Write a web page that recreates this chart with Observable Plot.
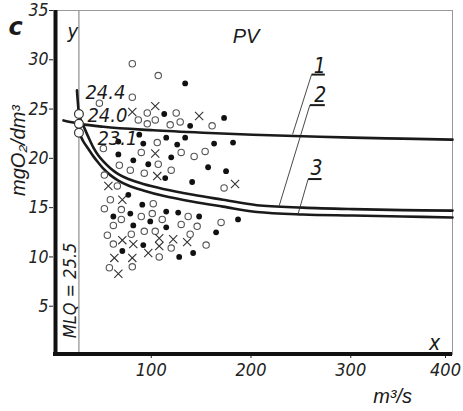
<!DOCTYPE html>
<html><head><meta charset="utf-8">
<script src="https://cdn.jsdelivr.net/npm/d3@7"></script>
<script src="https://cdn.jsdelivr.net/npm/@observablehq/plot@0.6"></script>
<style>body{margin:0;background:#fff}</style>
</head><body><div id="chart"></div>
<script>
// ---- data ----
const xTicks = [100, 200, 300, 400];
const yTicks = [5, 10, 15, 20, 25, 30, 35];

// open circles
const openX = [79,105,79,46,94,85,94,102,123,117,127,159,104,128,50,88,105,141,152,66,77,91,118,51,64,57,51,68,68,100,88,99,109,135,60,78,91,102,128,144,168,137,54,60,118,153,106,56,79,171];
const openY = [29.6,28.4,26.2,25.6,24.6,23.9,23.5,23.9,24.6,23.4,23.7,23.3,21.6,20.6,21.0,20.6,19.4,20.2,20.7,19.3,18.8,18.5,18.8,18.3,17.2,15.8,14.9,14.8,13.8,15.4,14.1,14.4,13.8,14.1,13.2,12.3,12.6,12.6,13.3,13.1,13.5,12.3,12.2,11.3,10.9,11.2,10.0,8.9,9.0,17.0];
// filled dots
const filledX = [132,111,137,171,86,90,113,124,132,65,80,95,118,161,180,112,155,173,75,60,77,89,97,113,125,146,80,113,185,163,90,69,126,140,139,65];
const filledY = [27.6,24.5,23.3,24.1,22.4,21.5,22.1,21.4,22.1,20.4,19.8,19.4,20.1,21.5,21.6,18.0,19.1,18.7,16.3,14.1,14.4,15.3,13.6,14.6,14.5,14.1,13.2,13.0,13.8,12.5,11.2,10.6,10.0,10.4,17.6,21.7];
// crosses
const crossX = [79,102,146,102,104,55,69,69,80,106,106,120,134,61,79,95,65,182];
const crossY = [24.7,25.3,24.3,20.5,18.2,17.2,15.8,11.7,11.3,11.9,11.1,11.8,11.5,9.9,9.9,10.4,8.3,17.4];

// curves
const curve1X = [10,27,50,100,150,200,250,300,350,400];
const curve1Y = [23.85,23.5,23.2,22.85,22.6,22.4,22.25,22.1,22.0,21.9];
const curve2X = [23.5,24.5,25.5,27,30,35,40,45,50,57,65,75,90,110,140,170,204,250,300,350,400];
const curve2Y = [26.9,25.6,24.5,24.0,23.3,22.15,21.1,20.3,19.7,19.0,18.4,17.9,17.4,16.9,16.3,15.8,15.25,15.0,14.85,14.75,14.7];
const curve3X = [25.5,27,30,35,40,45,50,57,65,75,90,110,140,170,204,250,300,350,400];
const curve3Y = [22.6,22.3,21.7,20.95,20.2,19.55,18.95,18.3,17.75,17.25,16.75,16.2,15.6,15.1,14.55,14.3,14.2,14.1,14.0];

// MLQ line and start values
const mlq = 25.5;
const startY = [24.5, 23.5, 22.6];
const startLabels = ["24.4", "24.0", "23.1"];
const startLabelX = [32, 34, 44];
const startLabelY = [26.06, 23.64, 21.4];

// curve number labels with leader lines
const curveNames = ["1", "2", "3"];
const nameX = [267, 267.5, 263.7];
const nameY = [29.3, 26.4, 18.95];
const underX1 = [258.7, 257, 255.3];
const underX2 = [272, 272, 268.7];
const underY = [28.5, 25.4, 17.9];
const leadX2 = [239.7, 226.3, 245.3];
const leadY2 = [22.45, 15.2, 14.4];

// ---- build tables ----
const pts = (xs, ys) => xs.map((x, i) => ({x, y: ys[i]}));
const openPts = pts(openX, openY);
const filledPts = pts(filledX, filledY);
const crossPts = pts(crossX, crossY);
const c1 = pts(curve1X, curve1Y);
const c2 = pts(curve2X, curve2Y);
const c3 = pts(curve3X, curve3Y);
const starts = startY.map((y, i) => ({x: mlq, y, label: startLabels[i], lx: startLabelX[i], ly: startLabelY[i]}));
const names = curveNames.map((t, i) => ({t, x: nameX[i], y: nameY[i], ux1: underX1[i], ux2: underX2[i], uy: underY[i], lx: leadX2[i], ly: leadY2[i]}));

const FONT = '"Liberation Sans Narrow", "DejaVu Sans Condensed", "Liberation Sans", sans-serif';
const INK = "#1a1a1a";

const chart = Plot.plot({
  width: 463, height: 411,
  marginLeft: 53, marginRight: 11, marginTop: 10, marginBottom: 56,
  x: {domain: [0, 400]},
  y: {domain: [0, 35]},
  style: {fontFamily: FONT, fontStyle: "italic", color: "#222", background: "white", overflow: "visible"},
  marks: [
    Plot.ruleX([mlq], {stroke: "#777", strokeWidth: 1}),
    Plot.ruleY([35], {stroke: "#999", strokeWidth: 1}),
    Plot.ruleX([400], {stroke: "#999", strokeWidth: 1}),
    Plot.line(c1, {x: "x", y: "y", curve: "monotone-x", stroke: INK, strokeWidth: 2.6}),
    Plot.line(c2, {x: "x", y: "y", curve: "catmull-rom", stroke: INK, strokeWidth: 2.6}),
    Plot.line(c3, {x: "x", y: "y", curve: "catmull-rom", stroke: INK, strokeWidth: 2.6}),
    Plot.link(names, {x1: "ux1", x2: "lx", y1: "uy", y2: "ly", stroke: INK, strokeWidth: 0.8}),
    Plot.link(names, {x1: "ux1", x2: "ux2", y1: "uy", y2: "uy", stroke: INK, strokeWidth: 2}),
    Plot.text(names, {x: "x", y: "y", text: "t", fontSize: 21, fill: INK}),
    Plot.dot(openPts, {x: "x", y: "y", r: 3.2, stroke: "#555", strokeWidth: 1.1, fill: "white"}),
    Plot.dot(filledPts, {x: "x", y: "y", r: 2.9, fill: "#111"}),
    Plot.dot(crossPts, {x: "x", y: "y", symbol: "times", r: 3.8, stroke: "#333", strokeWidth: 1.1}),
    Plot.dot(starts, {x: "x", y: "y", r: 4.4, fill: "white", stroke: "#333", strokeWidth: 1.2}),
    Plot.text(starts, {x: "lx", y: "ly", text: "label", textAnchor: "start", lineAnchor: "bottom", fontSize: 20, fill: INK}),
    Plot.axisY(yTicks, {tickSize: 4, tickPadding: 1, fontSize: 17.5, label: null, stroke: "#222"}),
    Plot.axisX(xTicks.slice(0, 3), {tickSize: 3, tickPadding: 5, fontSize: 18, dx: -2, label: null, stroke: "#222"}),
    Plot.axisX(xTicks.slice(3), {tickSize: 3, tickPadding: 5, fontSize: 18, dx: -7, label: null, stroke: "#222"}),
    Plot.ruleX([0], {stroke: "#111", strokeWidth: 4, dx: 2}),
    Plot.ruleY([0], {stroke: "#111", strokeWidth: 4, dy: -1.5}),
    Plot.text(["MLQ = 25.5"], {x: mlq, y: 6.6, dx: -3, rotate: -90, lineAnchor: "bottom", fontSize: 18, fill: INK}),
    Plot.text(["mgO₂/dm³"], {x: -29, y: 20.8, rotate: -90, lineAnchor: "bottom", fontSize: 20, fontFamily: '"Liberation Sans", sans-serif', fill: INK}),
    Plot.text(["c"], {x: -45, y: 32.5, textAnchor: "start", lineAnchor: "bottom", fontSize: 24, fontWeight: "bold", fontFamily: '"DejaVu Sans", sans-serif', fill: INK}),
    Plot.text(["y"], {x: 19.5, y: 32.2, lineAnchor: "bottom", fontSize: 20, fill: INK}),
    Plot.text(["PV"], {x: 193, y: 31.7, lineAnchor: "bottom", fontSize: 20, fontFamily: '"Liberation Sans", sans-serif', fill: INK}),
    Plot.text(["x"], {x: 382, y: 0.55, lineAnchor: "bottom", fontSize: 21, fill: INK}),
    Plot.text(["m³/s"], {x: 340, y: -4.8, lineAnchor: "bottom", fontSize: 20, fontFamily: '"Liberation Sans", sans-serif', fill: INK})
  ]
});
document.getElementById("chart").appendChild(chart);
</script>
</body></html>
